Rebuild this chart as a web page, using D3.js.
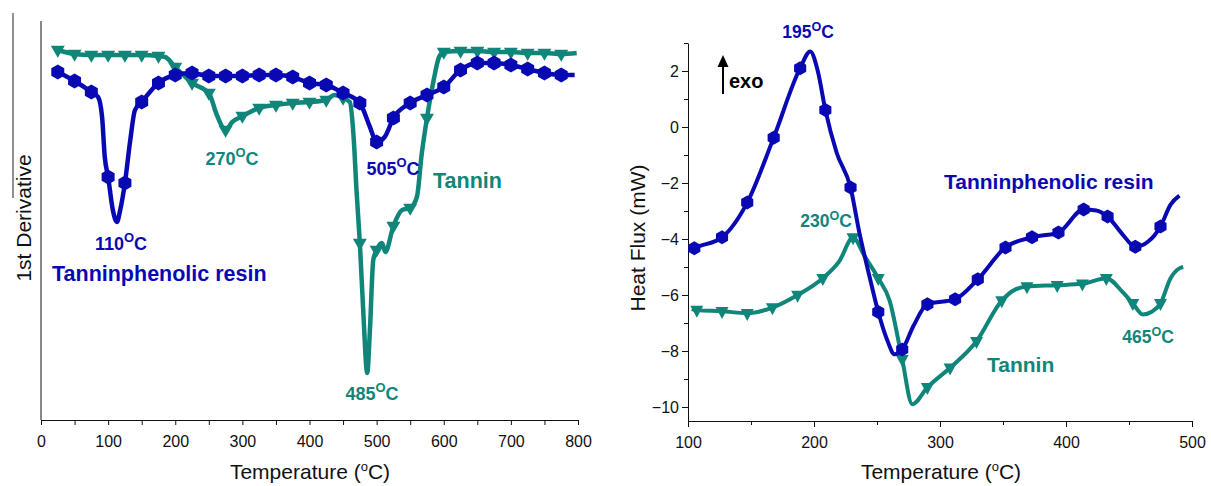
<!DOCTYPE html>
<html>
<head>
<meta charset="utf-8">
<script src="https://cdn.jsdelivr.net/npm/d3@7"></script>
<style>
  body { margin: 0; background: #fff; }
  svg { display: block; font-family: "Liberation Sans", Arial, sans-serif; }
</style>
</head>
<body>
<svg id="chart" width="1211" height="486"></svg>
<script>
const blue = "#0909b4";
const teal = "#0f8679";

// ---- left panel: DTG (1st derivative, arbitrary units) ----
const dtgResinT = [25, 50, 75, 85, 91, 95, 100, 107, 113, 118, 125, 133, 140, 150, 175, 200, 225, 250, 275, 300,
  325, 350, 375, 400, 425, 450, 475, 490, 500, 512, 525, 550, 575, 600, 625, 650, 675, 700, 725, 750, 775, 795];
const dtgResinV = [348, 339, 328, 323, 303, 263, 243, 210, 198, 210, 237, 280, 310, 318, 337, 345, 347, 344, 344, 344,
  345, 345, 343, 337, 335, 327, 317, 293, 278, 283, 302, 317, 325, 333, 350, 357, 357, 355, 351, 347, 345, 345];

const dtgTanninT = [25, 50, 75, 100, 125, 150, 175, 185, 200, 225, 250, 262, 275, 285, 300, 325, 350, 375, 400, 425,
  437, 450, 460, 466, 470, 475, 480, 486, 490, 495, 500, 508, 513, 525, 538, 550, 560, 567, 575, 585, 593, 600,
  625, 650, 675, 700, 725, 750, 775, 798];
const dtgTanninV = [370, 366, 365, 365, 365, 365, 364, 363, 353, 337, 327, 305, 290, 298, 304, 312, 315, 317, 318, 320,
  325, 322, 318, 280, 230, 177, 110, 47, 90, 160, 170, 177, 168, 194, 210, 212, 223, 265, 302, 340, 363, 368,
  369, 369, 368, 368, 367, 367, 366, 367];

const dtgMajorTicks = [0, 100, 200, 300, 400, 500, 600, 700, 800];
const dtgMinorTicks = [50, 150, 250, 350, 450, 550, 650, 750];

// ---- right panel: DSC heat flux (mW) ----
const dscResinT = [103, 105, 127, 147, 168, 189, 197, 203, 209, 218, 229, 236, 244, 251, 258, 264, 270, 279, 290,
  312, 330, 352, 373, 394, 414, 424, 433, 445, 455, 465, 475, 483, 490];
const dscResinV = [-4.38, -4.33, -3.94, -2.70, -0.38, 2.10, 2.70, 2.0, 0.61, -0.92, -2.16, -3.77, -5.33, -6.61, -7.6,
  -8.12, -7.95, -7.1, -6.33, -6.15, -5.44, -4.30, -3.94, -3.77, -2.95, -2.98, -3.2, -3.84, -4.28, -4.1, -3.55, -2.77, -2.45];
const dscResinMarks = [105, 127, 147, 168, 189, 209, 229, 251, 270, 290, 312, 330, 352, 373, 394, 414, 433, 455, 475];

const dscTanninT = [103, 107, 127, 147, 167, 187, 207, 220, 231, 240, 251, 260, 270, 278, 290, 308, 329, 349, 360,
  369, 393, 413, 432, 445, 453, 461, 468, 475, 483, 490, 493];
const dscTanninV = [-6.5, -6.54, -6.58, -6.65, -6.45, -6.0, -5.4, -4.8, -3.95, -4.6, -5.4, -6.2, -8.3, -9.9, -9.3,
  -8.6, -7.65, -6.2, -5.8, -5.7, -5.65, -5.6, -5.4, -5.9, -6.3, -6.7, -6.6, -6.3, -5.4, -5.05, -5.0];
const dscTanninMarks = [107, 127, 147, 167, 187, 207, 231, 251, 270, 290, 308, 329, 349, 369, 393, 413, 432, 453, 475];

const dscXMajor = [100, 200, 300, 400, 500];
const dscXMinor = [150, 250, 350, 450];
const dscYMajor = [-10, -8, -6, -4, -2, 0, 2];
const dscYMinor = [-9, -7, -5, -3, -1, 1, 3];

const svg = d3.select("#chart");

const hexagon = r => {
  const pts = d3.range(6).map(i => {
    const a = Math.PI / 3 * i - Math.PI / 2;
    return [r * Math.cos(a), r * Math.sin(a)];
  });
  return "M" + pts.map(p => p.join(",")).join("L") + "Z";
};
const triDown = (w, h) => `M${-w / 2},${-h * 0.36}L${w / 2},${-h * 0.36}L0,${h * 0.64}Z`;

function zip(ts, vs) {
  return ts.map((t, i) => ({ t: t, v: vs[i] }));
}

function drawSeries(g, x, y, pts, marks, color, shape, width) {
  const line = d3.line().x(d => x(d.t)).y(d => y(d.v)).curve(d3.curveMonotoneX);
  g.append("path")
    .datum(pts)
    .attr("fill", "none")
    .attr("stroke", color)
    .attr("stroke-width", width)
    .attr("stroke-linejoin", "round")
    .attr("d", line);
  g.selectAll(null)
    .data(pts.filter(d => marks(d.t)))
    .enter()
    .append("path")
    .attr("d", shape)
    .attr("fill", color)
    .attr("transform", d => `translate(${x(d.t)},${y(d.v)})`);
}

function peakLabel(g, px, py, num, color, size) {
  const t = g.append("text")
    .attr("x", px).attr("y", py)
    .attr("text-anchor", "middle")
    .attr("fill", color)
    .attr("font-weight", "bold")
    .attr("font-size", size);
  t.append("tspan").text(num);
  t.append("tspan").attr("dy", -size * 0.42).attr("font-size", size * 0.72).text("O");
  t.append("tspan").attr("dy", size * 0.42).text("C");
}

function tempTitle(g, cx, cy) {
  const t = g.append("text")
    .attr("x", cx).attr("y", cy)
    .attr("text-anchor", "middle")
    .attr("font-size", 21)
    .attr("fill", "#111");
  t.append("tspan").text("Temperature (");
  t.append("tspan").attr("dy", -8).attr("font-size", 13).text("o");
  t.append("tspan").attr("dy", 8).text("C)");
}

function styleAxis(g) {
  g.select(".domain").attr("stroke", "#111");
  g.selectAll(".tick line").attr("stroke", "#111");
  g.selectAll(".tick text").attr("fill", "#111").attr("font-size", 16)
    .attr("font-family", '"Liberation Sans", Arial, sans-serif');
}

// ================= left panel =================
const xL = d3.scaleLinear().domain([0, 800]).range([41, 578]);
const yL = d3.scaleLinear().domain([0, 399]).range([420, 21]);
const left = svg.append("g");

// stray frame line of the original figure
left.append("line").attr("x1", 13).attr("x2", 13).attr("y1", 13).attr("y2", 198)
  .attr("stroke", "#222").attr("stroke-width", 1);

left.append("line").attr("x1", 41).attr("x2", 41).attr("y1", 21).attr("y2", 420)
  .attr("stroke", "#111");

const axL = left.append("g").attr("transform", "translate(0,420)")
  .call(d3.axisBottom(xL).tickValues(dtgMajorTicks).tickSize(5).tickSizeOuter(0).tickPadding(11));
styleAxis(axL);
const axLm = left.append("g").attr("transform", "translate(0,420)")
  .call(d3.axisBottom(xL).tickValues(dtgMinorTicks).tickSize(5).tickFormat(""));
axLm.select(".domain").remove();
axLm.selectAll("line").attr("stroke", "#111");

drawSeries(left, xL, yL, zip(dtgTanninT, dtgTanninV), t => t % 25 === 0 && t < 790, teal, triDown(14, 12), 4.5);
drawSeries(left, xL, yL, zip(dtgResinT, dtgResinV), t => t % 25 === 0 && t < 790, blue, hexagon(7.5), 4.5);

tempTitle(left, 310, 479);
left.append("text")
  .attr("transform", "translate(31,218) rotate(-90)")
  .attr("text-anchor", "middle").attr("font-size", 21).attr("fill", "#111")
  .text("1st Derivative");

peakLabel(left, 121, 250, "110", blue, 18);
peakLabel(left, 232, 165, "270", teal, 18);
peakLabel(left, 393, 175, "505", blue, 18);
peakLabel(left, 372, 400, "485", teal, 18);
left.append("text").attr("x", 52).attr("y", 281).attr("font-size", 21.5).attr("font-weight", "bold")
  .attr("fill", blue).text("Tanninphenolic resin");
left.append("text").attr("x", 433).attr("y", 188).attr("font-size", 21.5).attr("font-weight", "bold")
  .attr("fill", teal).text("Tannin");

// ================= right panel =================
const xR = d3.scaleLinear().domain([100, 500]).range([688, 1192]);
const yR = d3.scaleLinear().domain([-10.5, 3]).range([421, 43]);
const right = svg.append("g");

const axRx = right.append("g").attr("transform", "translate(0,421)")
  .call(d3.axisBottom(xR).tickValues(dscXMajor).tickSize(6).tickSizeOuter(0).tickPadding(10));
styleAxis(axRx);
const axRxm = right.append("g").attr("transform", "translate(0,421)")
  .call(d3.axisBottom(xR).tickValues(dscXMinor).tickSize(4).tickFormat(""));
axRxm.select(".domain").remove();
axRxm.selectAll("line").attr("stroke", "#111");

const axRy = right.append("g").attr("transform", "translate(688,0)")
  .call(d3.axisLeft(yR).tickValues(dscYMajor).tickSize(6).tickSizeOuter(0).tickPadding(3));
styleAxis(axRy);
const axRym = right.append("g").attr("transform", "translate(688,0)")
  .call(d3.axisLeft(yR).tickValues(dscYMinor).tickSize(4).tickFormat(""));
axRym.select(".domain").remove();
axRym.selectAll("line").attr("stroke", "#111");

drawSeries(right, xR, yR, zip(dscTanninT, dscTanninV), t => dscTanninMarks.includes(t), teal, triDown(13, 12), 4);
drawSeries(right, xR, yR, zip(dscResinT, dscResinV), t => dscResinMarks.includes(t), blue, hexagon(7), 4);

tempTitle(right, 941, 479);
right.append("text")
  .attr("transform", "translate(645,238) rotate(-90)")
  .attr("text-anchor", "middle").attr("font-size", 21).attr("fill", "#111")
  .text("Heat Flux (mW)");

peakLabel(right, 808, 38, "195", blue, 17.5);
peakLabel(right, 826, 227, "230", teal, 17.5);
peakLabel(right, 1148, 343, "465", teal, 17.5);
right.append("text").attr("x", 944).attr("y", 189).attr("font-size", 21).attr("font-weight", "bold")
  .attr("fill", blue).text("Tanninphenolic resin");
right.append("text").attr("x", 987).attr("y", 372).attr("font-size", 21).attr("font-weight", "bold")
  .attr("fill", teal).text("Tannin");

// exo arrow
right.append("line").attr("x1", 723).attr("x2", 723).attr("y1", 94).attr("y2", 64)
  .attr("stroke", "#000").attr("stroke-width", 2);
right.append("path").attr("d", "M717.5,67L723,55L728.5,67Z").attr("fill", "#000");
right.append("text").attr("x", 729).attr("y", 88).attr("font-size", 20).attr("font-weight", "bold")
  .attr("fill", "#000").text("exo");
</script>
</body>
</html>
